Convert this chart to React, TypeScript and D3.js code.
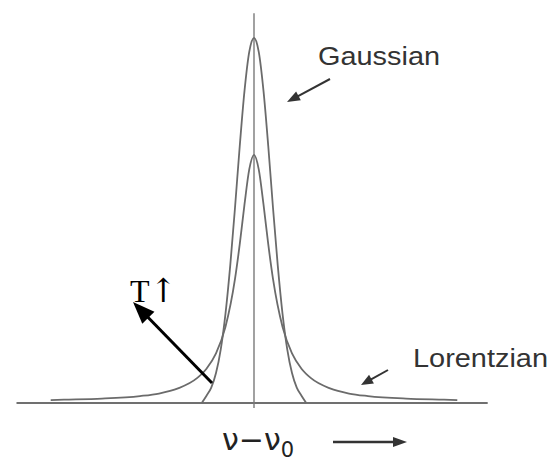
import React from "react";
import * as d3 from "d3";

// Line-shape profiles, frequency offset in units of the half-width, intensity relative to the Gaussian peak
const gaussX = [-2.75, -2.5, -2.25, -2, -1.75, -1.5, -1.25, -1, -0.75, -0.5, -0.25, 0, 0.25, 0.5, 0.75, 1, 1.25, 1.5, 1.75, 2, 2.25, 2.5, 2.75];
const gaussY = [0, 0.02, 0.042, 0.082, 0.147, 0.245, 0.377, 0.535, 0.704, 0.855, 0.962, 1, 0.962, 0.855, 0.704, 0.535, 0.377, 0.245, 0.147, 0.082, 0.042, 0.02, 0];

const lorX = [-10.7, -10, -8, -6, -5, -4, -3, -2.5, -2, -1.5, -1, -0.75, -0.5, -0.25, 0, 0.25, 0.5, 0.75, 1, 1.5, 2, 2.5, 3, 4, 5, 6, 8, 10, 10.7];
const lorY = [0.008, 0.009, 0.012, 0.019, 0.026, 0.04, 0.068, 0.094, 0.136, 0.209, 0.34, 0.435, 0.544, 0.64, 0.68, 0.64, 0.544, 0.435, 0.34, 0.209, 0.136, 0.094, 0.068, 0.04, 0.026, 0.019, 0.012, 0.009, 0.008];

const baseExtent = [-12.5, 12.3];
const centerExtent = [-0.014, 1.068];

const W = 550;
const H = 464;

const x = d3.scaleLinear().domain([-12, 12]).range([254 - 12 * 19, 254 + 12 * 19]);
const y = d3.scaleLinear().domain([0, 1]).range([403, 38]);

const line = d3
  .line<[number, number]>()
  .x((d) => x(d[0]))
  .y((d) => y(d[1]))
  .curve(d3.curveMonotoneX);

function zip(a: number[], b: number[]): [number, number][] {
  return a.map((v, i) => [v, b[i]]);
}

function Arrow({ x1, y1, x2, y2, color, width, headLen, headW }: any) {
  const ang = Math.atan2(y2 - y1, x2 - x1);
  const bx = x2 - headLen * Math.cos(ang);
  const by = y2 - headLen * Math.sin(ang);
  const px = -Math.sin(ang) * headW / 2;
  const py = Math.cos(ang) * headW / 2;
  return (
    <g>
      <line x1={x1} y1={y1} x2={bx + Math.cos(ang) * 2} y2={by + Math.sin(ang) * 2} stroke={color} strokeWidth={width} />
      <path d={`M${x2},${y2}L${bx + px},${by + py}L${bx - px},${by - py}Z`} fill={color} />
    </g>
  );
}

export default function App() {
  const curveColor = "#6b6b6b";
  return (
    <svg width={W} height={H} style={{ position: "fixed", left: 0, top: 0, background: "#fff" }}>
      <rect width={W} height={H} fill="#fff" />
      {/* baseline */}
      <line x1={x(baseExtent[0])} x2={x(baseExtent[1])} y1={y(0)} y2={y(0)} stroke="#707070" strokeWidth={2} />
      {/* centre line at v = v0 */}
      <line x1={x(0)} x2={x(0)} y1={y(centerExtent[0])} y2={y(centerExtent[1])} stroke="#7a7a7a" strokeWidth={1.4} />
      <path d={line(zip(lorX, lorY)) || ""} fill="none" stroke={curveColor} strokeWidth={1.8} />
      <path d={line(zip(gaussX, gaussY)) || ""} fill="none" stroke={curveColor} strokeWidth={1.8} />

      <text x={318} y={65} fontFamily="Liberation Sans, Arial, sans-serif" fontSize={26} fill="#333" textLength={122} lengthAdjust="spacingAndGlyphs">Gaussian</text>
      <Arrow x1={330} y1={79} x2={287} y2={102} color="#333" width={2} headLen={13} headW={10} />

      <text x={413} y={367} fontFamily="Liberation Sans, Arial, sans-serif" fontSize={26} fill="#333" textLength={135} lengthAdjust="spacingAndGlyphs">Lorentzian</text>
      <Arrow x1={388} y1={370} x2={361} y2={385} color="#333" width={2} headLen={12} headW={10} />

      <Arrow x1={212} y1={383} x2={133} y2={302} color="#000" width={3} headLen={22} headW={17} />
      <text x={130} y={302} fontFamily="Liberation Serif, Times New Roman, serif" fontSize={32} fill="#000">
        T<tspan fontFamily="DejaVu Serif" fontSize={33} fontWeight={200}>↑</tspan>
      </text>

      <text x={222} y={450} fontFamily="DejaVu Sans, sans-serif" fontSize={30} fill="#222">
        ν−ν<tspan fontSize={21} dy={7}>0</tspan>
      </text>
      <Arrow x1={333} y1={442} x2={407} y2={442} color="#333" width={2.5} headLen={14} headW={10} />
    </svg>
  );
}
